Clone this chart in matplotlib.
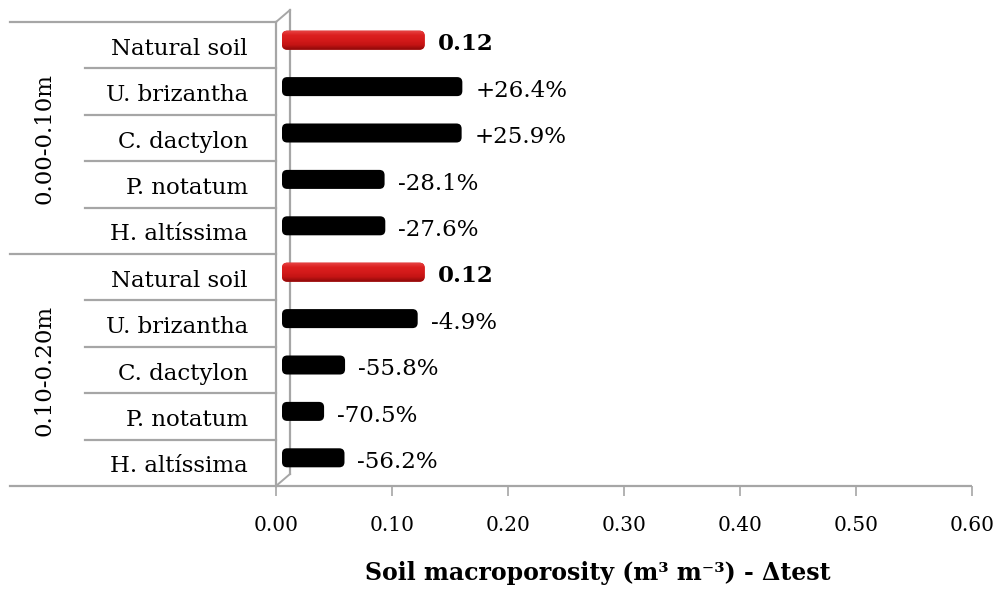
import numpy as np
import matplotlib
matplotlib.use("Agg")
import matplotlib.pyplot as plt
from matplotlib.patches import FancyBboxPatch
from matplotlib.transforms import ScaledTranslation, blended_transform_factory
from matplotlib.colors import LinearSegmentedColormap

# ---- data ----
depths = ["0.00-0.10m", "0.10-0.20m"]
species = ["Natural soil", "U. brizantha", "C. dactylon", "P. notatum", "H. altíssima"]
natural_soil = [0.123, 0.123]                 # m3 m-3, reference for each depth
change_0_10 = [26.4, 25.9, -28.1, -27.6]      # % relative to natural soil
change_10_20 = [-4.9, -55.8, -70.5, -56.2]
xticks = [0.0, 0.1, 0.2, 0.3, 0.4, 0.5, 0.6]

changes = [change_0_10, change_10_20]
values, labels, is_ref = [], [], []
for nat, chg in zip(natural_soil, changes):
    values.append(nat)
    labels.append(f"{nat:.2f}")
    is_ref.append(True)
    for c in chg:
        values.append(nat * (1 + c / 100.0))
        labels.append(f"{c:+.1f}%" if c > 0 else f"-{abs(c):.1f}%")
        is_ref.append(False)
rows = np.arange(len(values))

plt.rcParams["font.family"] = ["DejaVu Serif", "DejaVu Sans"]

W, H = 1004, 590
fig = plt.figure(figsize=(W / 100, H / 100), dpi=100)
ax = fig.add_axes([276 / W, 1 - 486 / H, (972 - 276) / W, (486 - 22) / H])
ax.set_xlim(0, 0.6)
ax.set_ylim(len(values) - 0.5, -0.5)

grey = "#A6A6A6"

def px(dx, dy):
    return ScaledTranslation(dx / 100, dy / 100, fig.dpi_scale_trans)

# ---- bars (drawn at mid depth of the 3-D box) ----
bar_off = ax.transData + px(6, 5)
bar_h = 0.41
bars = ax.barh(rows, values, height=bar_h, color="black")
aspect = (10 / 464) / (0.6 / 696)
red_cmap = LinearSegmentedColormap.from_list(
    "redbar", ["#E84848", "#DC2020", "#D41A1A", "#C41414", "#8A0808"])
for rect, ref in zip(bars, is_ref):
    x0, y0 = rect.get_x(), rect.get_y()
    w, h = rect.get_width(), rect.get_height()
    rect.remove()
    patch = FancyBboxPatch((x0, y0), w, h,
                           boxstyle="round,pad=0,rounding_size=0.0045",
                           mutation_aspect=aspect,
                           facecolor="#D41A1A" if ref else "black",
                           edgecolor="none", transform=bar_off, zorder=3)
    ax.add_patch(patch)
    if ref:
        grad = np.linspace(0, 1, 64).reshape(-1, 1)
        im = ax.imshow(grad, cmap=red_cmap, aspect="auto",
                       extent=(x0, x0 + w, y0 + h, y0),
                       transform=bar_off, zorder=4, interpolation="bilinear")
        im.set_clip_path(patch)

ax.set_xlim(0, 0.6)
ax.set_ylim(len(values) - 0.5, -0.5)

# ---- value labels ----
for r, v, lab, ref in zip(rows, values, labels, is_ref):
    ax.text(v, r + 0.11, lab, ha="left", va="baseline",
            fontsize=16.5, fontweight="bold" if ref else "normal",
            color="black", transform=ax.transData + px(19, 0), zorder=5)

# ---- axes frame in 3-D style ----
for s in ax.spines.values():
    s.set_visible(False)
ax.plot([0, 0.6], [len(values) - 0.5] * 2, color=grey, lw=1.6,
        clip_on=False, solid_capstyle="butt")
ax.plot([0, 0], [-0.5, len(values) - 0.5], color=grey, lw=1.6, clip_on=False)
back = ax.transData + px(14, 12)
ax.plot([0, 0], [-0.5, len(values) - 0.5], color=grey, lw=1.6,
        clip_on=False, transform=back)
for yb in (-0.5, len(values) - 0.5):
    p0 = ax.transData.transform((0, yb))
    ax.plot([p0[0], p0[0] + 14], [p0[1], p0[1] + 12], color=grey, lw=1.4,
            clip_on=False, transform=None)

ax.set_yticks([])
ax.set_xticks(xticks)
ax.set_xticklabels([f"{t:.2f}" for t in xticks], fontsize=14.5)
ax.tick_params(axis="x", direction="out", length=7.5, width=1.2,
               color=grey, pad=14)

# ---- category table on the left ----
bt = blended_transform_factory(fig.transFigure, ax.transData)
for k in range(len(values) + 1):
    yb = k - 0.5
    x_start = 10 / W if k % 5 == 0 else 85 / W
    ax.plot([x_start, 276 / W], [yb, yb], color=grey, lw=1.6,
            transform=bt, clip_on=False)
for r in rows:
    ax.text(248 / W, r + 0.205, species[r % 5], ha="right", va="baseline",
            fontsize=16.5, transform=bt)
for g, name in enumerate(depths):
    ax.text(45 / W, g * 5 + 2, name, rotation=90, ha="center", va="center",
            fontsize=16.5, transform=bt)

fig.text(598 / W, 1 - 573 / H, "Soil macroporosity (m³ m⁻³) - Δtest",
         ha="center", va="center", fontsize=17, fontweight="bold")

fig.savefig("out.png", dpi=100)
